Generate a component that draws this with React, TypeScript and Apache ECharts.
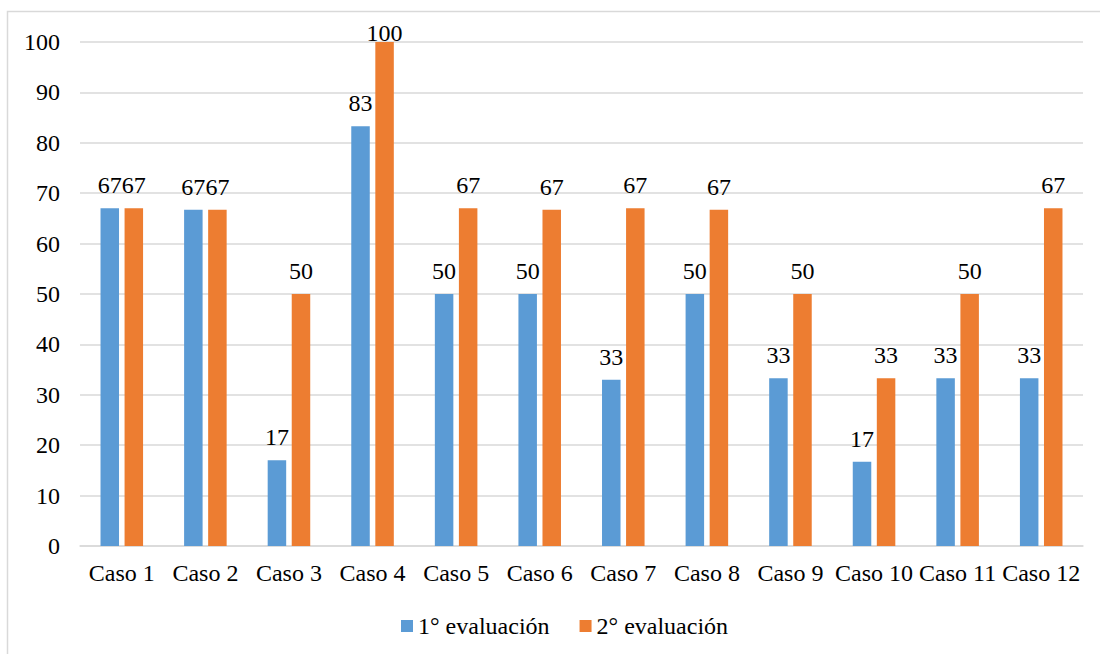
import React, { useEffect, useRef } from "react";
import * as echarts from "echarts";

const categories = ["Caso 1", "Caso 2", "Caso 3", "Caso 4", "Caso 5", "Caso 6", "Caso 7", "Caso 8", "Caso 9", "Caso 10", "Caso 11", "Caso 12"];
const firstEval = [67, 66.7, 17, 83.3, 50, 50, 33, 50, 33.3, 16.7, 33.3, 33.3];
const secondEval = [67, 66.7, 50, 100, 67, 66.7, 67, 66.7, 50, 33.3, 50, 67];
const seriesNames = ["1° evaluación", "2° evaluación"];
const yTicks = { min: 0, max: 100, interval: 10 };

const FONT = '"Liberation Serif", "Times New Roman", serif';
const FS = 24;

export default function App() {
  const ref = useRef<HTMLDivElement>(null);
  useEffect(() => {
    if (!ref.current) return;
    const chart = echarts.init(ref.current, null, { renderer: "svg" });
    const labelCfg = {
      show: true,
      position: "top",
      distance: 11,
      color: "#000",
      fontFamily: FONT,
      fontSize: FS,
      formatter: (p: any) => String(Math.round(p.value)),
    };
    const toData = (arr: number[]) =>
      arr.map((v) => (v >= yTicks.max ? { value: v, label: { distance: -3 } } : v));
    chart.setOption({
      animation: false,
      textStyle: { fontFamily: FONT, fontSize: FS },
      graphic: [
        {
          type: "rect",
          shape: { x: 7.5, y: 11.5, width: 1200, height: 800 },
          style: { fill: "none", stroke: "#D9D9D9", lineWidth: 1.5 },
          silent: true,
          z: -10,
        },
      ],
      grid: { left: 80, right: 17, top: 42, bottom: 108, containLabel: false },
      legend: {
        left: 401,
        top: 614,
        padding: 0,
        itemWidth: 12,
        itemHeight: 12,
        itemGap: 30,
        icon: "rect",
        textStyle: { fontFamily: FONT, fontSize: FS, color: "#000" },
        data: seriesNames,
      },
      xAxis: {
        type: "category",
        data: categories,
        boundaryGap: true,
        axisTick: { show: false },
        axisLine: { show: true, lineStyle: { color: "#D9D9D9", width: 1.5 } },
        axisLabel: { color: "#000", fontFamily: FONT, fontSize: FS, margin: 15, interval: 0 },
      },
      yAxis: {
        type: "value",
        min: yTicks.min,
        max: yTicks.max,
        interval: yTicks.interval,
        axisLine: { show: false },
        axisTick: { show: false },
        axisLabel: { color: "#000", fontFamily: FONT, fontSize: FS, margin: 20 },
        splitLine: { lineStyle: { color: "#D9D9D9", width: 1.5 } },
      },
      series: [
        {
          name: seriesNames[0],
          type: "bar",
          data: toData(firstEval),
          barWidth: 18.5,
          barGap: "30%",
          itemStyle: { color: "#5B9BD5" },
          label: labelCfg,
        },
        {
          name: seriesNames[1],
          type: "bar",
          data: toData(secondEval),
          barWidth: 18.5,
          barGap: "30%",
          itemStyle: { color: "#ED7D31" },
          label: labelCfg,
        },
      ],
    });
    return () => chart.dispose();
  }, []);
  return (
    <div
      ref={ref}
      style={{ position: "absolute", left: 0, top: 0, width: 1100, height: 654, background: "#fff" }}
    />
  );
}
